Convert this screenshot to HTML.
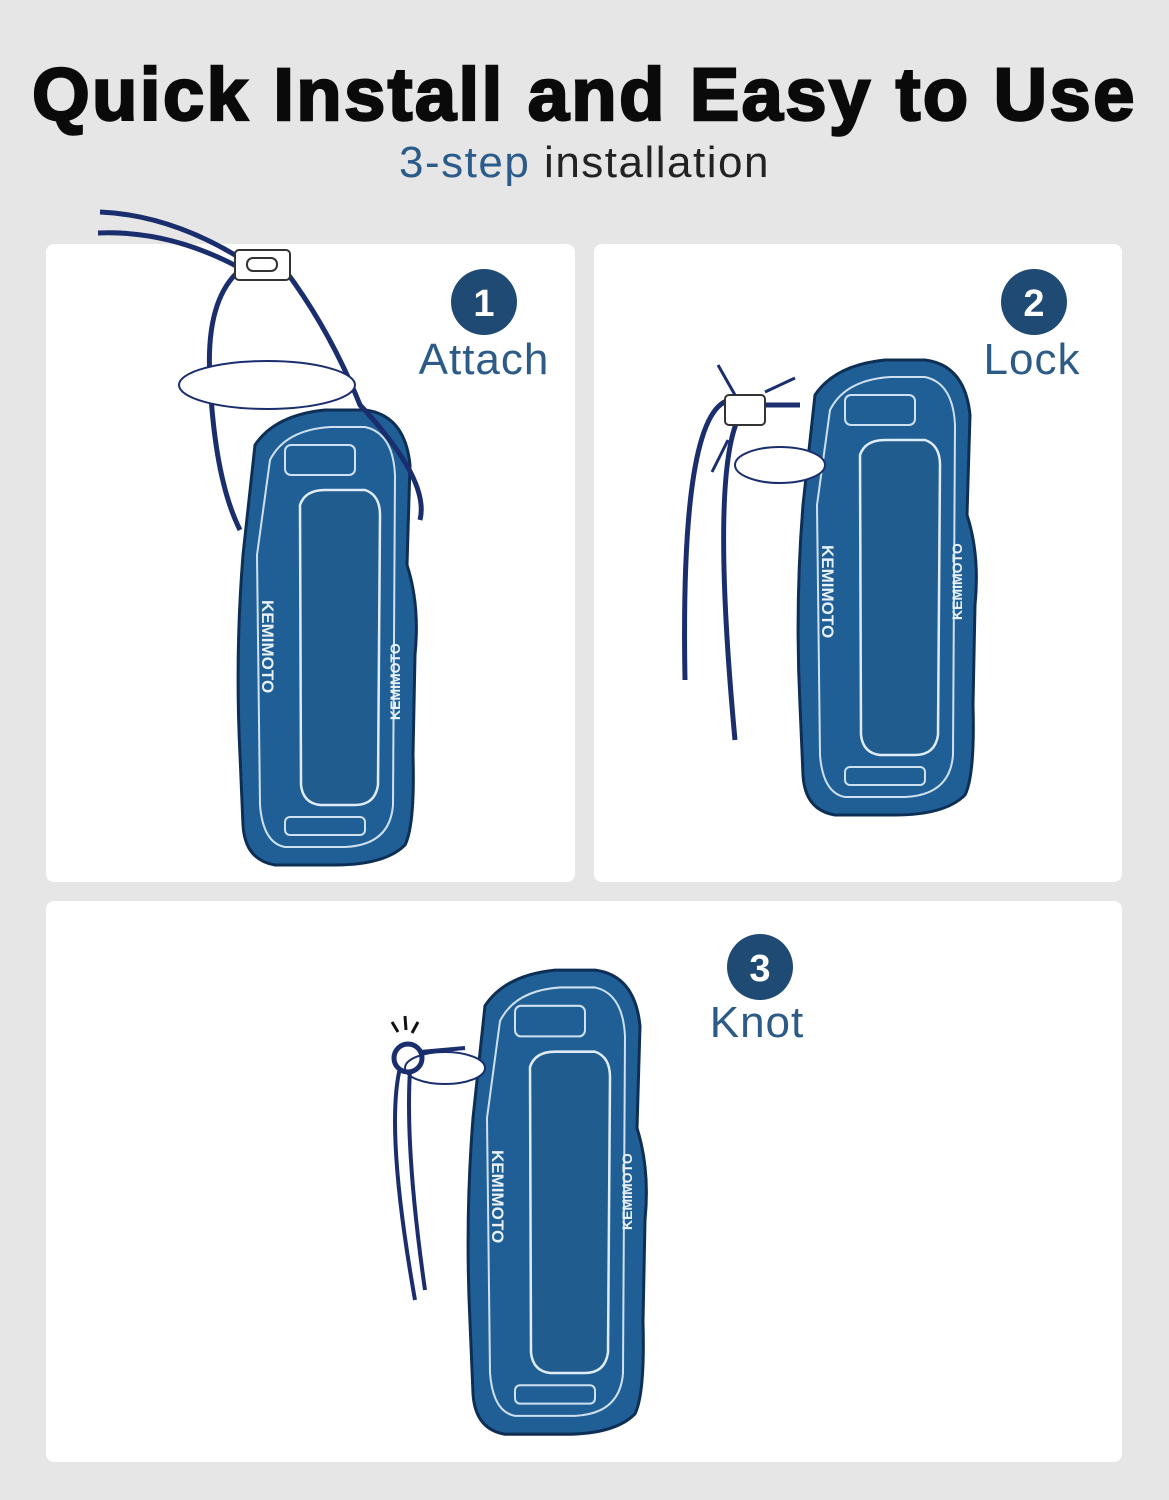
<!DOCTYPE html>
<html><head><meta charset="utf-8"><style>
html,body{margin:0;padding:0}
body{width:1169px;height:1500px;background:#e6e6e6;position:relative;overflow:hidden;font-family:"Liberation Sans",sans-serif}
.t{position:absolute;left:0;width:1169px;text-align:center}
.p{position:absolute;background:#fff;border-radius:8px}
</style></head><body>
<div class="t" style="top:52px;font-size:74px;font-weight:900;color:#0a0a0a;letter-spacing:2.5px;-webkit-text-stroke:2.5px #0a0a0a">Quick Install and Easy to Use</div>
<div class="t" style="top:138px;font-size:44px;color:#222;letter-spacing:1.5px"><span style="color:#2b5b8a">3-step</span> installation</div>
<div class="p" style="left:46px;top:244px;width:529px;height:638px"></div>
<div class="p" style="left:594px;top:244px;width:528px;height:638px"></div>
<div class="p" style="left:46px;top:901px;width:1076px;height:561px"></div>
<svg width="1169" height="1500" style="position:absolute;left:0;top:0" font-family="Liberation Sans, sans-serif">
<defs>
<g id="dev">
<path d="M20,40 Q40,10 90,5 L130,5 Q170,10 175,60 L172,160 Q185,200 180,250 L178,350 Q180,420 170,440 Q150,460 100,460 L40,460 Q10,455 8,420 L5,350 Q0,250 8,150 Z" fill="#1f5f96" stroke="#0e2f55" stroke-width="3"/>
<path d="M35,55 Q50,25 95,22 L130,22 Q158,28 160,70 L158,400 Q155,440 110,442 L50,442 Q28,438 25,400 L22,150 Z" fill="none" stroke="#cfe0f0" stroke-width="2"/>
<path d="M65,100 Q70,85 90,85 L130,85 Q145,90 145,110 L143,380 Q140,400 120,400 L85,400 Q68,398 66,380 Z" fill="#215c8e" stroke="#e0ecf7" stroke-width="2.5"/>
<rect x="50" y="40" width="70" height="30" rx="6" fill="none" stroke="#cfe0f0" stroke-width="2"/>
<rect x="50" y="412" width="80" height="18" rx="5" fill="none" stroke="#cfe0f0" stroke-width="2"/>
</g>
</defs>
<use href="#dev" transform="translate(235,405)"/>
<text transform="translate(262,600) rotate(90)" font-size="17" font-weight="bold" fill="#e8f0f8">KEMIMOTO</text>
<text transform="translate(400,720) rotate(-90)" font-size="14" font-weight="bold" fill="#e8f0f8">KEMIMOTO</text>
<path d="M100,212 Q170,215 240,258 M98,233 Q170,230 240,268" stroke="#1a2e6e" stroke-width="5" fill="none"/>
<path d="M240,270 Q205,300 210,380 Q215,480 240,530 M285,270 Q330,330 360,405 Q430,480 420,520" stroke="#1a2e6e" stroke-width="5" fill="none"/>
<ellipse cx="267" cy="385" rx="88" ry="24" fill="#fff" stroke="#1a2e6e" stroke-width="2"/>
<rect x="235" y="250" width="55" height="30" rx="4" fill="#fff" stroke="#333" stroke-width="2"/>
<rect x="247" y="258" width="30" height="13" rx="6" fill="none" stroke="#333" stroke-width="2"/>
<circle cx="484" cy="302" r="33" fill="#1f4a73"/>
<text x="484" y="316" font-size="38" font-weight="bold" fill="#fff" text-anchor="middle">1</text>
<text x="484" y="374" font-size="44" fill="#2b5b86" text-anchor="middle" letter-spacing="1">Attach</text>
<use href="#dev" transform="translate(795,355)"/>
<text transform="translate(822,545) rotate(90)" font-size="17" font-weight="bold" fill="#e8f0f8">KEMIMOTO</text>
<text transform="translate(962,620) rotate(-90)" font-size="14" font-weight="bold" fill="#e8f0f8">KEMIMOTO</text>
<path d="M730,400 Q680,410 685,680 M740,415 Q710,470 735,740 M760,405 L800,405" stroke="#1a2e6e" stroke-width="5" fill="none"/>
<ellipse cx="780" cy="465" rx="45" ry="18" fill="#fff" stroke="#1a2e6e" stroke-width="2"/>
<rect x="725" y="395" width="40" height="30" rx="4" fill="#fff" stroke="#333" stroke-width="2"/>
<path d="M718,365 L735,395 M795,378 L765,392 M712,472 L728,440" stroke="#1a2e6e" stroke-width="3"/>
<circle cx="1034" cy="302" r="33" fill="#1f4a73"/>
<text x="1034" y="316" font-size="38" font-weight="bold" fill="#fff" text-anchor="middle">2</text>
<text x="1032" y="374" font-size="44" fill="#2b5b86" text-anchor="middle" letter-spacing="1">Lock</text>
<use href="#dev" transform="translate(465,965) scale(1,1.02)"/>
<text transform="translate(492,1150) rotate(90)" font-size="17" font-weight="bold" fill="#e8f0f8">KEMIMOTO</text>
<text transform="translate(632,1230) rotate(-90)" font-size="14" font-weight="bold" fill="#e8f0f8">KEMIMOTO</text>
<ellipse cx="445" cy="1068" rx="40" ry="16" fill="#fff" stroke="#1a2e6e" stroke-width="2"/>
<circle cx="408" cy="1058" r="14" fill="none" stroke="#1a2e6e" stroke-width="5"/>
<path d="M400,1068 Q385,1130 415,1300 M410,1070 Q405,1150 425,1290 M420,1052 L465,1048" stroke="#1a2e6e" stroke-width="4" fill="none"/>
<path d="M392,1022 L398,1032 M405,1016 L406,1030 M418,1022 L412,1033" stroke="#111" stroke-width="3"/>
<circle cx="760" cy="967" r="33" fill="#1f4a73"/>
<text x="760" y="981" font-size="38" font-weight="bold" fill="#fff" text-anchor="middle">3</text>
<text x="757" y="1037" font-size="44" fill="#2b5b86" text-anchor="middle" letter-spacing="1">Knot</text>
</svg>
</body></html>
